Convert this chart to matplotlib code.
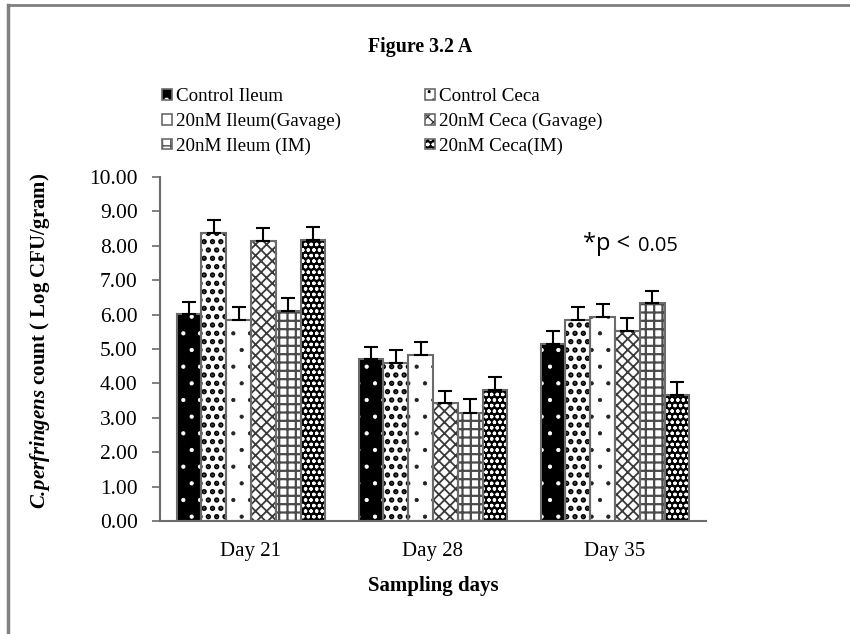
import matplotlib
matplotlib.use("Agg")
import matplotlib.pyplot as plt
from matplotlib.patches import Rectangle
from matplotlib.legend_handler import HandlerTuple
from matplotlib.lines import Line2D
import numpy as np

days = ["Day 21", "Day 28", "Day 35"]
series = ["Control Ileum", "Control Ceca", "20nM Ileum(Gavage)",
          "20nM Ceca (Gavage)", "20nM Ileum (IM)", "20nM Ceca(IM)"]
control_ileum = [6.02, 4.70, 5.15]
control_ceca = [8.37, 4.60, 5.84]
ileum_gavage = [5.84, 4.82, 5.94]
ceca_gavage = [8.15, 3.44, 5.52]
ileum_im = [6.10, 3.15, 6.35]
ceca_im = [8.17, 3.81, 3.67]
err_control_ileum = [0.35, 0.37, 0.37]
err_control_ceca = [0.37, 0.37, 0.38]
err_ileum_gavage = [0.38, 0.38, 0.37]
err_ceca_gavage = [0.38, 0.35, 0.38]
err_ileum_im = [0.38, 0.39, 0.35]
err_ceca_im = [0.38, 0.38, 0.37]
y_ticks = [0, 1, 2, 3, 4, 5, 6, 7, 8, 9, 10]

values = [control_ileum, control_ceca, ileum_gavage, ceca_gavage, ileum_im, ceca_im]
errors = [err_control_ileum, err_control_ceca, err_ileum_gavage,
          err_ceca_gavage, err_ileum_im, err_ceca_im]

# (face colour, hatch, hatch colour, hatch line width) for each series
styles = [
    ("black", ".", "white", 0.6),
    ("white", "..", "black", 2.6),
    ("white", ".", "#222222", 0.6),
    ("white", "xxx", "#3a3a3a", 1.3),
    ("white", "++", "#4a4a4a", 1.6),
    ("black", "ooo", "white", 0.9),
]

serif = "Liberation Serif"
plt.rcParams["font.family"] = serif
plt.rcParams["mathtext.fontset"] = "custom"
plt.rcParams["mathtext.rm"] = serif
plt.rcParams["mathtext.bf"] = serif + ":bold"
plt.rcParams["mathtext.it"] = serif + ":italic"
plt.rcParams["mathtext.bfit"] = serif + ":italic:bold"

fig = plt.figure(figsize=(8.5, 6.34), dpi=100)
ax = fig.add_axes([160 / 850, 1 - 521 / 634, (706 - 160) / 850, (521 - 177) / 634])


def hatched(patch, lw):
    if hasattr(patch, "set_hatch_linewidth"):
        patch.set_hatch_linewidth(lw)
    return patch


edge = "#6b6b6b"
n = len(series)
width = 0.136
x = np.arange(len(days))
handles = []
for i, (vals, errs, (fc, hatch, hc, hlw)) in enumerate(zip(values, errors, styles)):
    pos = x + (i - (n - 1) / 2) * width
    ax.bar(pos, vals, width, color=fc, edgecolor="none", linewidth=0, zorder=2)
    with plt.rc_context({"hatch.linewidth": hlw}):
        bars = ax.bar(pos, vals, width, fill=False, hatch=hatch, edgecolor=hc,
                      linewidth=0, zorder=3)
        for b in bars:
            hatched(b, hlw)
        h_hatch = hatched(Rectangle((0, 0), 1, 1, fill=False, hatch=hatch,
                                    edgecolor=hc, linewidth=0), hlw)
    ax.bar(pos, vals, width, fill=False, edgecolor=edge, linewidth=1.5, zorder=4)
    ax.errorbar(pos, vals, yerr=[np.zeros(len(errs)), errs], fmt="none",
                ecolor="black", elinewidth=1.5, capsize=5, capthick=1.5, zorder=5)
    h_base = Rectangle((0, 0), 1, 1, facecolor=fc, edgecolor="none")
    h_edge = Rectangle((0, 0), 1, 1, fill=False, edgecolor=edge, linewidth=1.2)
    handles.append((h_base, h_hatch, h_edge))

ax.set_xlim(-0.5, 2.5)
ax.set_ylim(0, 10)
ax.set_yticks(y_ticks)
ax.set_yticklabels([f"{v:.2f}" for v in y_ticks], fontsize=15.5)
ax.set_xticks(x)
ax.set_xticklabels(days, fontsize=15)
ax.tick_params(axis="x", length=0, pad=15)
ax.tick_params(axis="y", length=6, width=1.2, color=edge, direction="out", pad=10)
for s in ["top", "right"]:
    ax.spines[s].set_visible(False)
for s in ["left", "bottom"]:
    ax.spines[s].set_color(edge)
    ax.spines[s].set_linewidth(1.5)

ax.set_xlabel("Sampling days", fontsize=15, fontweight="bold", labelpad=11)
fig.text(40 / 850, 1 - 341 / 634,
         r"$\mathbfit{C.}\!\mathbfit{perfringens}$" + " count ( Log CFU/gram)",
         rotation=90, ha="center", va="center", fontsize=15, fontweight="bold")

fig.text(420 / 850, 1 - 47 / 634, "Figure 3.2 A", ha="center", va="center",
         fontsize=14.3, fontweight="bold")

# significance note
fig.text(583 / 850, 1 - 244 / 634, "*p <", ha="left", va="center",
         fontsize=17, family="Open Sans")
fig.text(638 / 850, 1 - 246 / 634, "0.05", ha="left", va="center",
         fontsize=14.5, family="Open Sans")

order = [0, 2, 4, 1, 3, 5]
leg = fig.legend([handles[k] for k in order], [series[k] for k in order],
                 handler_map={tuple: HandlerTuple(ndivide=1, pad=0)},
                 ncol=2, loc="upper left", bbox_to_anchor=(162 / 850, 1 - 88 / 634),
                 frameon=False, fontsize=13.7, handlelength=0.5, handleheight=0.5,
                 handletextpad=0.25, columnspacing=4.4, labelspacing=0.4,
                 borderaxespad=0, borderpad=0)

# outer frame lines
fig.add_artist(Line2D([8 / 850, 8 / 850], [0, 1 - 5 / 634], color="#808080", lw=2.5,
                      transform=fig.transFigure))
fig.add_artist(Line2D([8 / 850, 1], [1 - 5 / 634, 1 - 5 / 634], color="#808080", lw=2,
                      transform=fig.transFigure))

fig.savefig("out.png", dpi=100)
